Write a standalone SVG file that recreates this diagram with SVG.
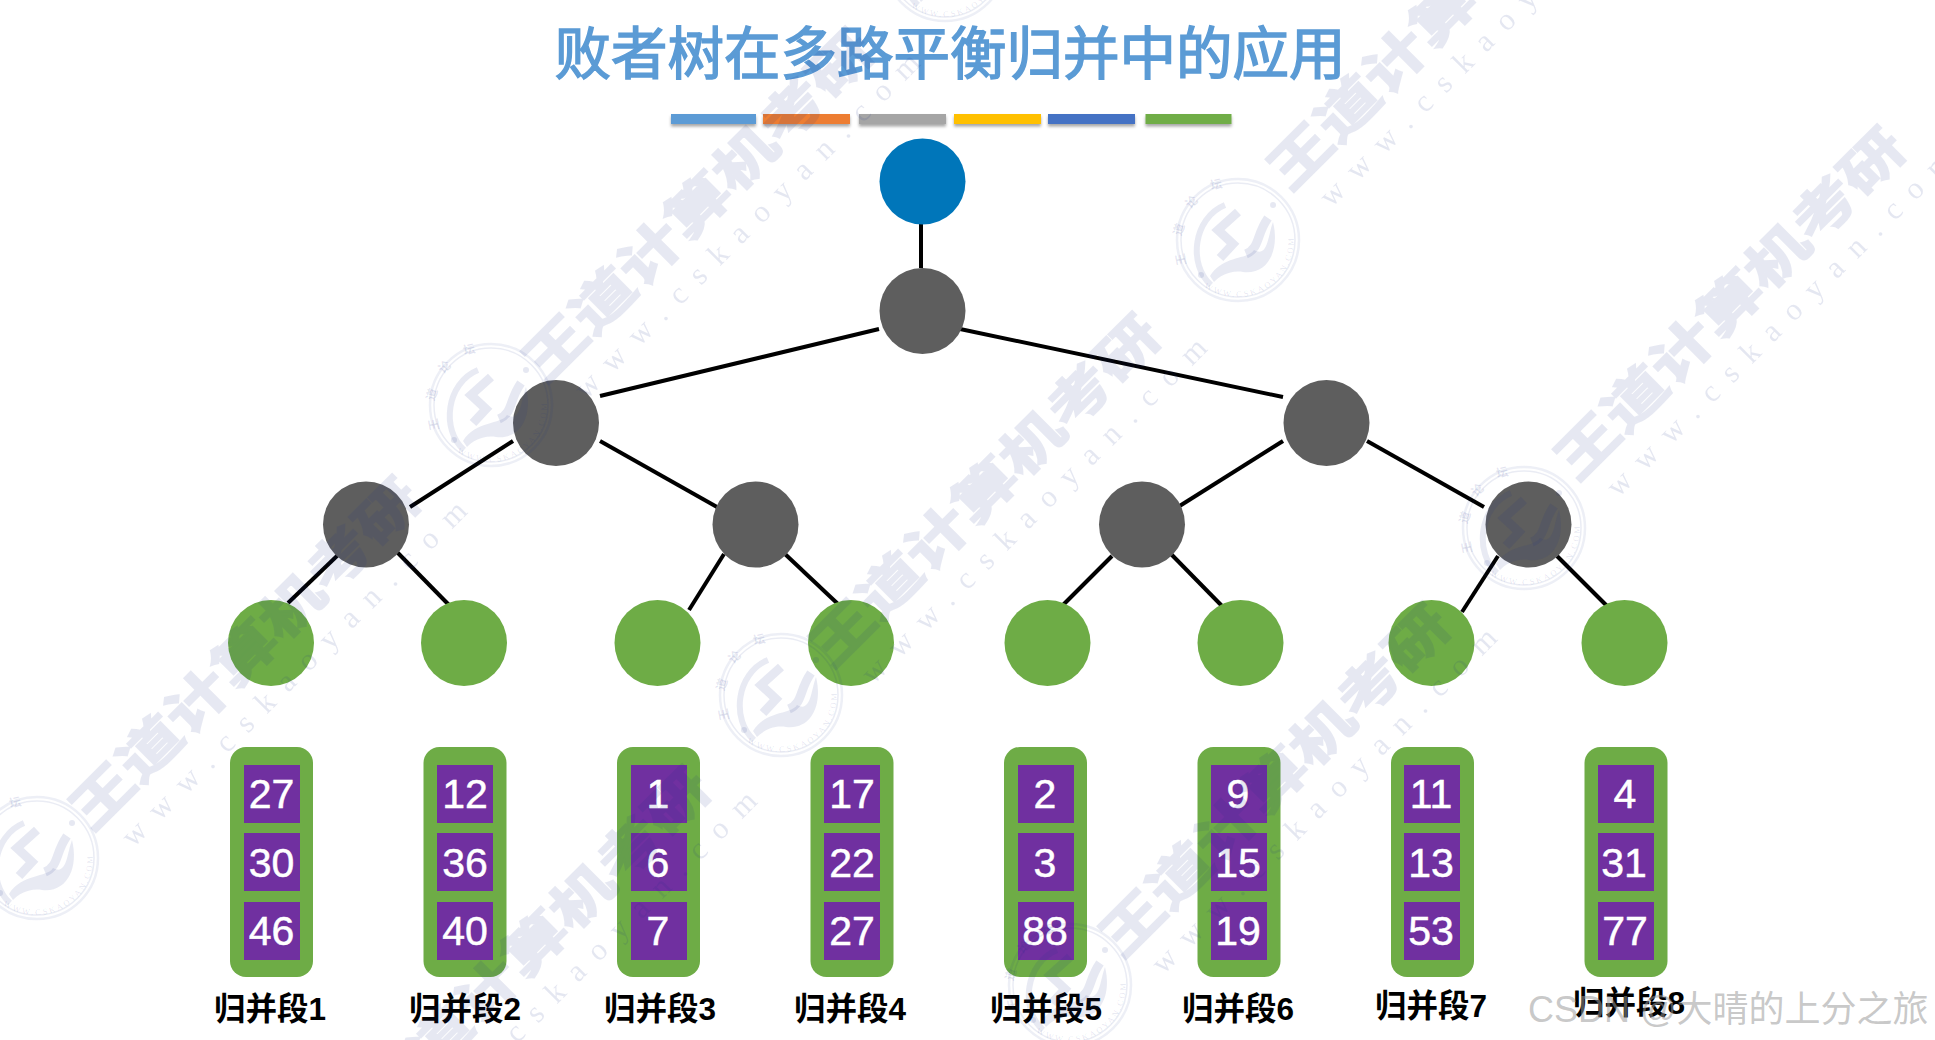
<svg xmlns="http://www.w3.org/2000/svg" xmlns:xlink="http://www.w3.org/1999/xlink" width="1935" height="1040" viewBox="0 0 1935 1040">
<style>
.ink{stroke:#000;stroke-width:4;fill:none}
.root{fill:#0076BA}.gray{fill:#5E5E5E}.leaf{fill:#6EAC46}
.run{fill:#6EAC46}.cell{fill:#7030A0}
.num{font-family:"Liberation Sans",Arial,sans-serif;font-size:41px;fill:#fff;stroke:#fff;stroke-width:.5;text-anchor:middle}
.lab{font-family:"Liberation Sans","Noto Sans CJK SC",sans-serif;font-size:31.5px;font-weight:700;fill:#000;text-anchor:middle}
.title{font-family:"Noto Sans CJK SC",sans-serif;font-size:56.5px;font-weight:400;fill:#5B9BD5;stroke:#5B9BD5;stroke-width:1.5;text-anchor:middle}
.wmb{font-family:"Noto Sans CJK SC",sans-serif;font-size:67px;font-weight:700;fill:#192D87;stroke:#192D87;stroke-width:2.5;opacity:.1}
.wms{font-family:"Liberation Serif",serif;font-size:31px;letter-spacing:15px;fill:#192D87;opacity:.11}
.lgt{font-family:"Liberation Serif","Noto Sans CJK SC",serif;fill:#192D87;fill-opacity:.12}
.csdn{font-family:"Liberation Sans","Noto Sans CJK SC",sans-serif;font-size:36px;fill:#9a9a9a;fill-opacity:.55}
</style>
<defs>
<filter id="sh" x="-10%" y="-50%" width="120%" height="220%"><feDropShadow dx="0" dy="2.5" stdDeviation="1.5" flood-color="#000" flood-opacity=".35"/></filter>
<path id="lgTop" d="M-50 24A55 55 0 0 1 22 -50"/>
<path id="lgBot" d="M-34 47A58 58 0 0 0 49 28 A58 58 0 0 0 52 -20"/>
<g id="logo">
<circle r="61" fill="none" stroke="#192D87" stroke-opacity=".08" stroke-width="2.5"/>
<circle r="57" fill="none" stroke="#192D87" stroke-opacity=".09" stroke-width="1.5"/>
<path d="M-13 -35C-45 -22 -50 25 -27 45" fill="none" stroke="#192D87" stroke-opacity=".1" stroke-width="6"/>
<path d="M0 -28L-20 -10L-5 4L-18 18M30 -22C18 -5 22 8 8 14" fill="none" stroke="#192D87" stroke-opacity=".11" stroke-width="9"/>
<path d="M-28 36C-15 15 10 20 16 10C30 18 30 -5 35 -18C42 10 30 35 5 32C-8 30 -18 36 -24 42Z" fill="#192D87" fill-opacity=".1"/>
<circle cx="-37" cy="35" r="3" fill="#192D87" fill-opacity=".11"/>
<circle cx="35" cy="-35" r="3" fill="#192D87" fill-opacity=".11"/>
<text class="lgt" font-size="12" font-weight="700" letter-spacing="16"><textPath href="#lgTop">王道论坛</textPath></text>
<text class="lgt" font-size="8.5" letter-spacing="2.2"><textPath href="#lgBot">WWW.CSKAOYAN.COM</textPath></text>
</g>
<g id="wm">
<text class="wmb" x="-8" y="0" transform="scale(1,.78)">王道计算机考研</text>
<text class="wms" x="10" y="40">www.cskaoyan.com</text>
</g>
</defs>
<rect width="1935" height="1040" fill="#fff"/>
<text class="title" x="950" y="74">败者树在多路平衡归并中的应用</text>
<g id="title-bars" filter="url(#sh)">
<rect x="671" y="114" width="85" height="10" fill="#5B9BD5"/>
<rect x="763" y="114" width="87" height="10" fill="#ED7D31"/>
<rect x="859" y="114" width="87" height="10" fill="#A5A5A5"/>
<rect x="954" y="114" width="87" height="10" fill="#FFC000"/>
<rect x="1048" y="114" width="87" height="10" fill="#4472C4"/>
<rect x="1145.5" y="114" width="86" height="10" fill="#70AD47"/>
</g>
<g id="connectors" class="ink">
<path d="M921 224V268"/>
<path d="M879 329L600 396"/><path d="M960 329L1283 397"/>
<path d="M513 441L410 507"/><path d="M600 441L717 507"/>
<path d="M1283 441L1178 507"/><path d="M1367 441L1484 507"/>
<path d="M338 555L288 603"/><path d="M397 552L449 605"/>
<path d="M724 554L689 610"/><path d="M785 554L839 605"/>
<path d="M1112 556L1061 607"/><path d="M1171 554L1223 607"/>
<path d="M1498 556L1462 612"/><path d="M1557 556L1608 607"/>
</g>
<g id="n-root"><circle class="root" cx="922.5" cy="181.5" r="43"/></g>
<g id="n-top"><circle class="gray" cx="922.5" cy="311" r="43"/></g>
<g id="n-l"><circle class="gray" cx="556" cy="423" r="43"/></g>
<g id="n-r"><circle class="gray" cx="1326.5" cy="423" r="43"/></g>
<g id="n-ll"><circle class="gray" cx="366" cy="524.5" r="43"/></g>
<g id="n-lr"><circle class="gray" cx="755.5" cy="524.5" r="43"/></g>
<g id="n-rl"><circle class="gray" cx="1142" cy="524.5" r="43"/></g>
<g id="n-rr"><circle class="gray" cx="1528.5" cy="524.5" r="43"/></g>
<g id="leaf1"><circle class="leaf" cx="271" cy="643" r="43"/></g>
<g id="leaf2"><circle class="leaf" cx="464" cy="643" r="43"/></g>
<g id="leaf3"><circle class="leaf" cx="657.5" cy="643" r="43"/></g>
<g id="leaf4"><circle class="leaf" cx="851" cy="643" r="43"/></g>
<g id="leaf5"><circle class="leaf" cx="1047.5" cy="643" r="43"/></g>
<g id="leaf6"><circle class="leaf" cx="1240.5" cy="643" r="43"/></g>
<g id="leaf7"><circle class="leaf" cx="1431.5" cy="643" r="43"/></g>
<g id="leaf8"><circle class="leaf" cx="1624.5" cy="643" r="43"/></g>
<g id="run1"><rect class="run" x="230" y="747" width="83" height="230" rx="16"/><rect class="cell" x="244" y="765" width="56" height="58"/><rect class="cell" x="244" y="833" width="56" height="58"/><rect class="cell" x="244" y="902" width="56" height="58"/><text class="num" x="271.5" y="808">27</text><text class="num" x="271.5" y="877">30</text><text class="num" x="271.5" y="945">46</text><text class="lab" x="270" y="1020">归并段1</text></g>
<g id="run2"><rect class="run" x="423.5" y="747" width="83" height="230" rx="16"/><rect class="cell" x="437" y="765" width="56" height="58"/><rect class="cell" x="437" y="833" width="56" height="58"/><rect class="cell" x="437" y="902" width="56" height="58"/><text class="num" x="465" y="808">12</text><text class="num" x="465" y="877">36</text><text class="num" x="465" y="945">40</text><text class="lab" x="465" y="1020">归并段2</text></g>
<g id="run3"><rect class="run" x="617" y="747" width="83" height="230" rx="16"/><rect class="cell" x="631" y="765" width="56" height="58"/><rect class="cell" x="631" y="833" width="56" height="58"/><rect class="cell" x="631" y="902" width="56" height="58"/><text class="num" x="658" y="808">1</text><text class="num" x="658" y="877">6</text><text class="num" x="658" y="945">7</text><text class="lab" x="660" y="1020">归并段3</text></g>
<g id="run4"><rect class="run" x="810.5" y="747" width="83" height="230" rx="16"/><rect class="cell" x="824" y="765" width="56" height="58"/><rect class="cell" x="824" y="833" width="56" height="58"/><rect class="cell" x="824" y="902" width="56" height="58"/><text class="num" x="852" y="808">17</text><text class="num" x="852" y="877">22</text><text class="num" x="852" y="945">27</text><text class="lab" x="850" y="1020">归并段4</text></g>
<g id="run5"><rect class="run" x="1004" y="747" width="83" height="230" rx="16"/><rect class="cell" x="1018" y="765" width="56" height="58"/><rect class="cell" x="1018" y="833" width="56" height="58"/><rect class="cell" x="1018" y="902" width="56" height="58"/><text class="num" x="1045" y="808">2</text><text class="num" x="1045" y="877">3</text><text class="num" x="1045" y="945">88</text><text class="lab" x="1046" y="1020">归并段5</text></g>
<g id="run6"><rect class="run" x="1197.5" y="747" width="83" height="230" rx="16"/><rect class="cell" x="1211" y="765" width="56" height="58"/><rect class="cell" x="1211" y="833" width="56" height="58"/><rect class="cell" x="1211" y="902" width="56" height="58"/><text class="num" x="1238" y="808">9</text><text class="num" x="1238" y="877">15</text><text class="num" x="1238" y="945">19</text><text class="lab" x="1238" y="1020">归并段6</text></g>
<g id="run7"><rect class="run" x="1391" y="747" width="83" height="230" rx="16"/><rect class="cell" x="1404" y="765" width="56" height="58"/><rect class="cell" x="1404" y="833" width="56" height="58"/><rect class="cell" x="1404" y="902" width="56" height="58"/><text class="num" x="1431" y="808">11</text><text class="num" x="1431" y="877">13</text><text class="num" x="1431" y="945">53</text><text class="lab" x="1431" y="1017">归并段7</text></g>
<g id="run8"><rect class="run" x="1584.5" y="747" width="83" height="230" rx="16"/><rect class="cell" x="1598" y="765" width="56" height="58"/><rect class="cell" x="1598" y="833" width="56" height="58"/><rect class="cell" x="1598" y="902" width="56" height="58"/><text class="num" x="1625" y="808">4</text><text class="num" x="1624" y="877">31</text><text class="num" x="1625" y="945">77</text><text class="lab" x="1629" y="1014">归并段8</text></g>
<g id="watermarks">
<use href="#wm" transform="translate(98,827) rotate(-45)"/>
<use href="#wm" transform="translate(388,1117) rotate(-45)"/>
<use href="#wm" transform="translate(551,379) rotate(-45)"/>
<use href="#wm" transform="translate(838,664) rotate(-45)"/>
<use href="#wm" transform="translate(1128,954) rotate(-45)"/>
<use href="#wm" transform="translate(1296,187) rotate(-45)"/>
<use href="#wm" transform="translate(1583,477) rotate(-45)"/>
<use href="#logo" x="491" y="405"/>
<use href="#logo" x="1238" y="240"/>
<use href="#logo" x="1524" y="528"/>
<use href="#logo" x="781" y="695"/>
<use href="#logo" x="37" y="858"/>
<use href="#logo" x="1070" y="985"/>
<use href="#logo" x="945" y="-40"/>
</g>
<text class="csdn" x="1528" y="1022">CSDN @大晴的上分之旅</text>
</svg>
